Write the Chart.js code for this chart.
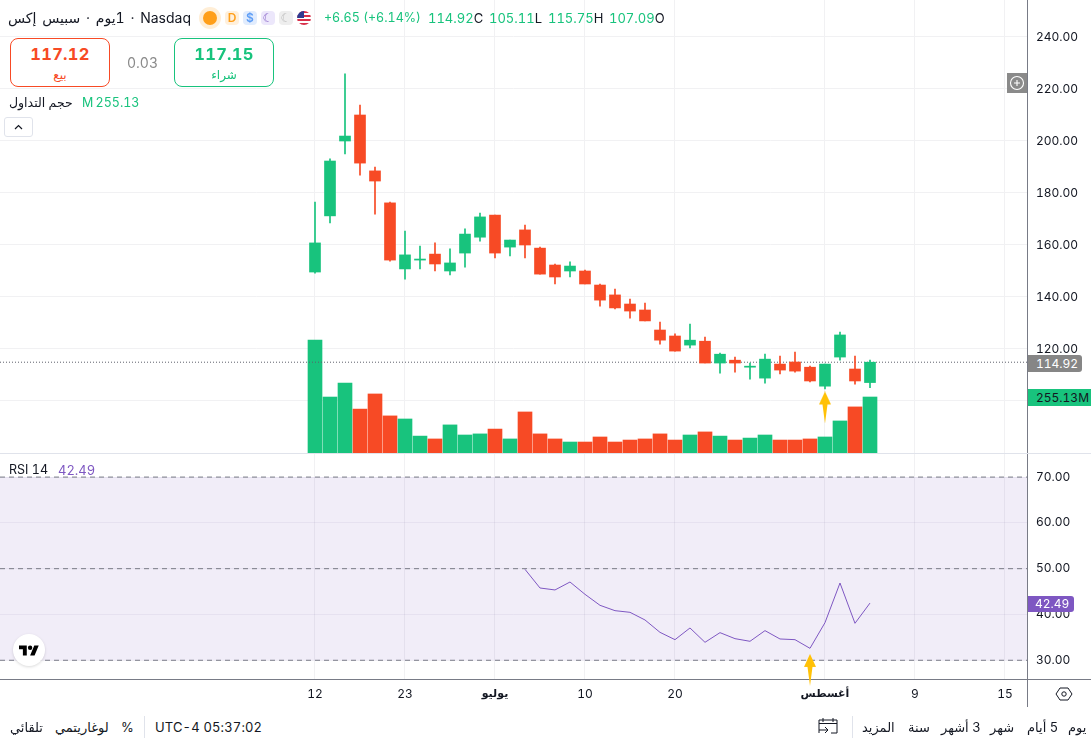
<!DOCTYPE html>
<html lang="ar">
<head>
<meta charset="utf-8">
<title>Nasdaq</title>
<script src="https://cdn.jsdelivr.net/npm/chart.js@4"></script>
<style>
html,body{margin:0;padding:0;background:#fff;overflow:hidden}
body{width:1091px;height:744px;position:relative;font-family:Inter,"Noto Sans","DejaVu Sans",sans-serif;color:#131722;font-variant-numeric:tabular-nums}
canvas{position:absolute;left:0}
#priceChart{top:0}
#rsiChart{top:454px}
.t{position:absolute;white-space:nowrap;line-height:16px;height:16px}
.r{direction:rtl}
.g{color:#18c37d}
.box{position:absolute;box-sizing:border-box;width:100px;height:49px;top:38px;border:1px solid;border-radius:8px;text-align:center;background:#fff}
.box b{display:block;font-size:16.5px;line-height:20px;margin-top:5px;font-weight:700;letter-spacing:.3px}
.box span{display:block;font-size:12px;line-height:18px;margin-top:2px}
.tag{position:absolute;font-size:12px;line-height:17px;height:17px;box-sizing:border-box;padding-left:8px}
.ico{position:absolute;top:11px;width:14px;height:14px;border-radius:4px;font-size:12px;line-height:14px;text-align:center;font-weight:600}
.line{position:absolute}
</style>
</head>
<body>
<canvas id="priceChart" width="1091" height="453" style="width:1091px;height:453px"></canvas>
<canvas id="rsiChart" width="1091" height="253" style="width:1091px;height:253px"></canvas>

<!-- pane separators and the parts of the scale line outside the plots -->
<div class="line" style="left:0;top:453px;width:1091px;height:1px;background:#e0e3eb"></div>
<div class="line" style="left:1027px;top:679px;width:64px;height:1px;background:#787b86"></div>
<div class="line" style="left:1027px;top:680px;width:1px;height:27px;background:#787b86"></div>

<!-- header -->
<div class="t r" style="left:9px;top:10px;width:182px;font-size:14px;text-align:right;word-spacing:2px"><bdi>Nasdaq</bdi> · 1يوم · سبيس إكس</div>
<div class="line" style="left:199px;top:7px;width:22px;height:22px;border-radius:50%;background:#ffeed6"></div>
<div class="line" style="left:203px;top:11px;width:14px;height:14px;border-radius:50%;background:#ff9f1a"></div>
<div class="ico" style="left:225px;background:#fff0dc;color:#ff9f1a">D</div>
<div class="ico" style="left:243px;background:#e1ecfd;color:#5b9cf6">$</div>
<div class="ico" style="left:261px;background:#ece7fb;color:#7e57c2">&#9790;</div>
<div class="ico" style="left:279px;background:#eeeeee;color:#b8b8b8">&#9790;</div>
<div class="line" style="left:297px;top:11px;width:14px;height:14px;border-radius:50%;overflow:hidden;background:repeating-linear-gradient(#d8304a 0 2px,#fff 2px 4px)"><div style="width:7px;height:7px;background:#2f3a8f"></div></div>

<div class="t g" style="left:324px;top:10px;font-size:12.5px">+6.65 (+6.14%)</div>
<div class="t" style="left:428px;top:10px;font-size:13px"><span class="g">114.92</span>C</div>
<div class="t" style="left:489px;top:10px;font-size:13px"><span class="g">105.11</span>L</div>
<div class="t" style="left:548px;top:10px;font-size:13px"><span class="g">115.75</span>H</div>
<div class="t" style="left:609px;top:10px;font-size:13px"><span class="g">107.09</span>O</div>

<div class="box" style="left:10px;border-color:#f74a25;color:#f74a25"><b>117.12</b><span>بيع</span></div>
<div class="t" style="left:127px;top:55px;font-size:14px;color:#8a8a8a">0.03</div>
<div class="box" style="left:174px;border-color:#18c37d;color:#18c37d"><b>117.15</b><span>شراء</span></div>

<div class="t r" style="left:9px;top:95px;font-size:12.5px;width:65px;text-align:left">حجم التداول</div>
<div class="t g" style="left:82px;top:95px;font-size:12.5px">M&thinsp;255.13</div>
<div class="line" style="left:4px;top:117px;width:29px;height:20px;box-sizing:border-box;border:1px solid #e0e3eb;border-radius:3px;background:#fff">
  <svg width="27" height="18" style="display:block"><path d="M10 11l3.5-3.5L17 11" fill="none" stroke="#131722" stroke-width="1.2"/></svg>
</div>

<div class="t" style="left:9px;top:462px;font-size:12.5px">RSI 14</div>
<div class="t" style="left:58px;top:462px;font-size:13px;color:#7e57c2">42.49</div>

<!-- tradingview badge -->
<div class="line" style="left:13px;top:634px;width:32px;height:32px;border-radius:50%;background:#fff;box-shadow:0 1px 3px rgba(0,0,0,.15)">
  <svg width="20" height="16" viewBox="0 0 36 28" style="position:absolute;left:6px;top:9px"><path d="M14 22H7V11H0V4h14v18zM28 22h-8l7.5-18h8L28 22z"/><circle cx="20" cy="8" r="4"/></svg>
</div>

<!-- scale tags -->
<div class="line" style="left:1007px;top:73px;width:20px;height:20px;background:#8a8a8a">
  <svg width="20" height="20"><circle cx="10" cy="10" r="6.5" fill="none" stroke="#fff" stroke-width="1.1"/><path d="M10 7v6M7 10h6" stroke="#fff" stroke-width="1.1"/></svg>
</div>
<div class="tag" style="left:1028px;top:355px;width:54px;background:#868686;color:#fff;border-radius:0 3px 3px 0">114.92</div>
<div class="tag" style="left:1028px;top:389px;width:63px;background:#18c37d;color:#131722">255.13M</div>
<div class="tag" style="left:1028px;top:596px;width:46px;height:16px;line-height:16px;background:#7e57c2;color:#fff;border-radius:0 3px 3px 0;padding-left:7px">42.49</div>

<!-- gear -->
<svg class="line" style="left:1055px;top:685px" width="18" height="18"><path d="M5 3h8l4 6-4 6H5L1 9z" fill="none" stroke="#131722" stroke-width="1"/><circle cx="9" cy="9" r="2.2" fill="none" stroke="#131722"/></svg>

<!-- bottom toolbar -->
<div class="t" style="left:10px;top:719px;font-size:13px">تلقائي</div>
<div class="t" style="left:55px;top:719px;font-size:13px">لوغاريتمي</div>
<div class="t" style="left:121px;top:719px;font-size:13px">%</div>
<div class="line" style="left:144px;top:716px;width:1px;height:22px;background:#e0e3eb"></div>
<div class="t" style="left:155px;top:719px;font-size:13px;letter-spacing:.15px">UTC-4 05:37:02</div>

<div class="t r" style="left:1068px;top:719px;font-size:13px">يوم</div>
<div class="t r" style="left:1027px;top:719px;font-size:13px">5 أيام</div>
<div class="t r" style="left:990px;top:719px;font-size:13px">شهر</div>
<div class="t r" style="left:941px;top:719px;font-size:13px">3 أشهر</div>
<div class="t r" style="left:908px;top:719px;font-size:13px">سنة</div>
<div class="t r" style="left:862px;top:719px;font-size:13px">المزيد</div>
<div class="line" style="left:852px;top:716px;width:1px;height:22px;background:#e0e3eb"></div>
<svg class="line" style="left:818px;top:716px" width="20" height="20"><path d="M1 17V4h18v13h-6M1 7.5h18M5 2v4M15 2v4M1 14h9M7 11l3 3-3 3" fill="none" stroke="#131722" stroke-width="1"/></svg>

<script>
// daily bars
const opens  = [149.6,171.2,200.0,210.0,188.5,176.2,150.8,154.2,156.5,150.0,156.9,163.0,171.5,159.2,165.8,158.8,152.3,150.0,150.0,144.6,140.8,137.3,135.0,127.3,125.0,121.5,123.0,114.6,115.7,113.0,108.8,114.2,115.0,113.0,105.7,116.9,112.3,107.09];
const highs  = [176.5,193.1,225.8,213.8,190.0,176.5,165.4,159.6,160.8,158.5,166.2,172.3,171.5,161.9,167.7,159.2,152.7,153.5,150.4,145.0,143.0,139.2,137.7,130.4,125.8,129.6,124.6,118.4,116.9,114.6,118.0,117.3,118.8,113.4,114.2,126.5,117.3,115.75];
const lows   = [149.2,168.5,195.0,186.9,171.9,153.8,146.9,150.8,150.0,148.5,151.5,161.5,155.0,155.8,155.0,148.8,145.0,147.7,145.0,136.5,135.4,131.9,130.8,121.9,119.2,120.4,114.6,110.7,111.1,108.4,106.9,110.4,111.1,107.3,104.6,115.7,106.5,105.11];
const closes = [160.8,192.3,201.9,191.5,184.6,154.2,156.2,154.6,152.7,153.1,164.2,170.8,156.9,161.9,160.0,148.8,147.7,151.9,145.0,138.8,135.8,134.6,130.8,123.4,119.2,123.4,114.6,118.0,114.6,113.4,116.1,111.9,111.5,107.7,114.2,125.4,107.7,114.92];
// volume in millions
const volumes = [515,255,319,200,269,169,155,77,64,128,82,87,109,64,187,87,64,50,50,73,50,59,64,87,59,82,96,77,59,68,82,59,59,64,73,146,210,255.13];
// rsi starts at bar 14
const rsiStart = 14;
const rsiValues = [49.86,45.78,45.35,47.09,44.4,42.0,40.83,40.47,38.8,36.1,34.5,37.05,33.92,36.03,34.72,34.14,36.47,34.65,34.5,32.61,38.21,46.87,38.07,42.49];

const lastClose = 114.92;
const priceTicks = [100,120,140,160,180,200,220,240];
const rsiTicks = [30,40,50,60,70];
const dateTicks = [0,6,12,18,24,34,40,46];
const dateLabels = ["12","23","يوليو","10","20","أغسطس","9","15"];
const boldDates = ["يوليو","أغسطس"];
const priceArrow = [{x:34,y:97.5}];
const rsiArrow = [{x:33,y:27.9}];

const GREEN = "#18c37d";
const RED = "#f74a25";
const PURPLE = "#7e57c2";
const GRID = "#f1f1f3";
const SCALE = "#787b86";
const FONT = "Inter, 'Noto Sans', 'DejaVu Sans', sans-serif";

// plot spans x 0..1027 with bars 15px apart and bar 0 at x=315
const xMin = -21, xMax = 47.467;

const barColor = closes.map((c,i) => c >= opens[i] ? GREEN : RED);

// yellow marker used as point image
function makeArrow(){
	const c = document.createElement("canvas");
	c.width = 14; c.height = 32;
	const g = c.getContext("2d");
	g.fillStyle = "#ffc107";
	g.beginPath();
	g.moveTo(7,0); g.lineTo(13,13); g.lineTo(9.5,13); g.lineTo(7,32); g.lineTo(4.5,13); g.lineTo(1,13);
	g.closePath();
	g.fill();
	return c;
}
const arrowImg = makeArrow();

function tickFont(ctx){
	const isBold = ctx.tick && boldDates.includes(ctx.tick.label);
	return {family: FONT, size: isBold ? 11 : 12, weight: isBold ? "bold" : "normal"};
}

// chart.js reserves room for overhanging labels, the panes here run edge to edge
function noOverhang(axis){
	axis.paddingLeft = 0;
	axis.paddingRight = 0;
	axis.paddingTop = 0;
	axis.paddingBottom = 0;
}

function xAxis(showLabels){
	return {
		type: "linear",
		min: xMin,
		max: xMax,
		offset: false,
		afterBuildTicks(axis){ axis.ticks = dateTicks.map(v => ({value:v})) },
		afterFit(axis){
			noOverhang(axis);
			axis.height = showLabels ? 27.5 : 0;
		},
		grid: {color: GRID, drawTicks: false, offset: false},
		border: showLabels ? {color: SCALE} : {display:false},
		ticks: {
			display: showLabels,
			autoSkip: false,
			maxRotation: 0,
			padding: 8,
			color: "#131722",
			font: tickFont,
			callback: v => { const k = dateTicks.indexOf(v); return k < 0 ? "" : dateLabels[k] }
		}
	}
}

function priceAxisFit(axis){
	noOverhang(axis);
	axis.width = 64;
}

new Chart("priceChart", {
	data: {
		datasets: [
			{type:"bar", yAxisID:"yVol", data: volumes.map((v,i)=>({x:i,y:v})), backgroundColor: barColor, barThickness:14, grouped:false, order:5},
			{type:"line", data:[{x:xMin,y:lastClose},{x:xMax,y:lastClose}], borderColor:"#5d606b", borderWidth:1, borderDash:[1,2], pointRadius:0, order:4},
			{type:"bar", data: highs.map((h,i)=>({x:i,y:[lows[i],h]})), backgroundColor: barColor, barThickness:1, grouped:false, order:3},
			{type:"bar", data: opens.map((o,i)=>({x:i,y:[o,closes[i]]})), backgroundColor: barColor, barThickness:11, grouped:false, minBarLength:1, order:2},
			{type:"scatter", data: priceArrow, pointStyle: arrowImg, order:1}
		]
	},
	options: {
		responsive:false,
		animation:false,
		layout:{padding:0, autoPadding:false},
		plugins:{legend:{display:false},tooltip:{enabled:false}},
		scales:{
			x: xAxis(false),
			y: {
				position:"right",
				min:80,
				max:254.23,
				afterFit: priceAxisFit,
				afterBuildTicks(axis){ axis.ticks = priceTicks.map(v => ({value:v})) },
				grid:{color:GRID, drawTicks:false},
				border:{color:SCALE},
				ticks:{
					color:"#131722",
					padding:9,
					crossAlign:"near",
					font:{family:FONT,size:12},
					callback: v => v === 100 ? "" : v.toFixed(2)
				}
			},
			yVol: {display:false, min:0, max:2064}
		}
	}
});

new Chart("rsiChart", {
	data: {
		datasets: [
			{type:"line", data:[{x:xMin,y:70},{x:xMax,y:70}], borderColor:SCALE, borderWidth:1, borderDash:[5,4], pointRadius:0, fill:"+1", backgroundColor:"rgba(126,87,194,0.11)", order:4},
			{type:"line", data:[{x:xMin,y:30},{x:xMax,y:30}], borderColor:SCALE, borderWidth:1, borderDash:[5,4], pointRadius:0, order:3},
			{type:"line", data:[{x:xMin,y:50},{x:xMax,y:50}], borderColor:SCALE, borderWidth:1, borderDash:[5,4], pointRadius:0, order:3},
			{type:"line", data: rsiValues.map((v,i)=>({x:i+rsiStart,y:v})), borderColor:PURPLE, borderWidth:1, pointRadius:0, tension:0, order:2},
			{type:"scatter", data: rsiArrow, pointStyle: arrowImg, clip:false, order:1}
		]
	},
	options: {
		responsive:false,
		animation:false,
		layout:{padding:0, autoPadding:false},
		plugins:{legend:{display:false},tooltip:{enabled:false},filler:{propagate:false}},
		scales:{
			x: xAxis(true),
			y: {
				position:"right",
				min:25.8,
				max:75.04,
				afterFit: priceAxisFit,
				afterBuildTicks(axis){ axis.ticks = rsiTicks.map(v => ({value:v})) },
				grid:{color:"rgba(120,110,150,0.09)", drawTicks:false},
				border:{color:SCALE},
				ticks:{
					color:"#131722",
					padding:9,
					crossAlign:"near",
					font:{family:FONT,size:12},
					callback: v => v.toFixed(2)
				}
			}
		}
	}
});
</script>
</body>
</html>
